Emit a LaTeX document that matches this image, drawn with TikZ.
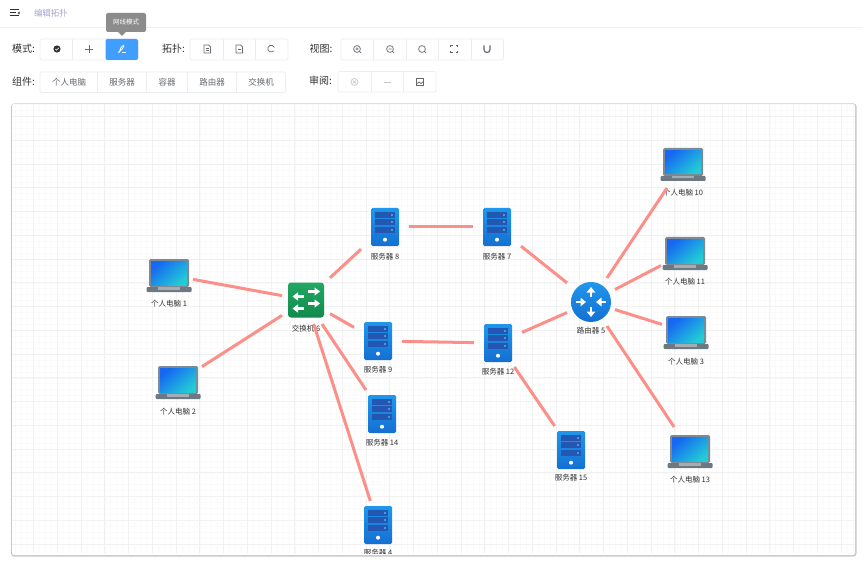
\documentclass[tikz,border=0pt]{standalone}
\usepackage{fontspec}
\setmainfont{Noto Sans CJK SC}
\usepackage{xcolor}
\usetikzlibrary{arrows.meta, positioning}

\definecolor{linkred}{HTML}{FC8F87}
\definecolor{gridminor}{HTML}{FAFAFA}
\definecolor{gridmajor}{HTML}{F1F1F1}
\definecolor{btnline}{HTML}{EBEDF2}
\definecolor{btntext}{HTML}{666A70}
\definecolor{labeltext}{HTML}{303133}
\definecolor{stripeblue}{HTML}{2457B2}
\definecolor{laptopgray}{HTML}{7E8993}
\definecolor{laptopbase}{HTML}{6C7882}
\definecolor{screenblue}{HTML}{1668F2}
\definecolor{screencyan}{HTML}{22CBD6}
\definecolor{deviceblue}{HTML}{1F97EC}
\definecolor{devicedeep}{HTML}{1470D2}
\definecolor{switchgreen}{HTML}{22A862}
\definecolor{switchdeep}{HTML}{118A4C}
\definecolor{activeblue}{HTML}{409EFF}

\tikzset{
    device/.style={minimum size=48, inner sep=0, outer sep=0},
    devlabel/.style={font=\fontsize{7.5}{9}\selectfont, text=labeltext, inner sep=0},
    barlabel/.style={font=\fontsize{10}{12}\selectfont, text=labeltext, inner sep=0},
    bartext/.style={font=\fontsize{8.5}{10}\selectfont, text=btntext, inner sep=0},
    btngroup/.style={draw=btnline, fill=white, rounded corners=2, line width=0.7},
    divider/.style={draw=btnline, line width=0.7},
    link/.style={draw=linkred, line width=3},
    icon/.style={draw=btntext, line width=0.7},
    faint/.style={draw=black!22, line width=0.7},
    laptopicon/.pic={
        \fill[laptopgray, rounded corners=1.5] (-20,-16) rectangle (20,12);
        \shade[top color=screenblue, bottom color=screencyan, shading angle=40] (-18,-13.5) rectangle (18,10);
        \fill[laptopbase, rounded corners=1] (-22.5,12) rectangle (22.5,17);
        \fill[laptopgray!70!white] (-11,12) rectangle (11,14.5);
    },
    servericon/.pic={
        \shade[top color=deviceblue, bottom color=devicedeep, rounded corners=1.5] (-14,-19) rectangle (14,19);
        \foreach \sy in {-12,-5,3} {
            \fill[stripeblue] (-10,\sy-2.7) rectangle (10,\sy+2.7);
            \fill[cyan!50!white] (7,\sy) circle (0.8);
        }
        \fill[white] (0,12.7) circle (2);
    },
    switchicon/.pic={
        \shade[top color=switchgreen, bottom color=switchdeep, rounded corners=3] (-18,-17.5) rectangle (18,17.5);
        \begin{scope}[white, line width=2.4, -{Triangle[length=5.5, width=8]}]
            \draw (2,-8.5) -- (14,-8.5);
            \draw (-2,-3.5) -- (-13.5,-3.5);
            \draw (2,3.5) -- (14,3.5);
            \draw (-2,8.5) -- (-13.5,8.5);
        \end{scope}
    },
    routericon/.pic={
        \shade[top color=deviceblue, bottom color=devicedeep] (0,0) circle (20);
        \begin{scope}[white, line width=2.4, -{Triangle[length=5.5, width=8.5]}]
            \draw (0,-5) -- (0,-15);
            \draw (0,5) -- (0,15);
            \draw (-15,0) -- (-5,0);
            \draw (15,0) -- (5,0);
        \end{scope}
    },
}

\begin{document}
\begin{tikzpicture}[x=1pt, y=-1pt]
    \useasboundingbox (0,0) rectangle (862,564);
    \fill[white] (0,0) rectangle (862,564);

    % Header
    \draw[black!6, line width=1] (0,28) -- (862,28);
    \draw[labeltext, line width=1] (10,10) -- (19,10) (10,13) -- (16,13) (10,16) -- (19,16);
    \fill[labeltext] (17.5,13) -- (19.5,11.7) -- (19.5,14.3) -- cycle;
    \node[font=\fontsize{8.5}{10}\selectfont, text=blue!30!gray!55!white, inner sep=0] (crumb) at (51,13) {编辑拓扑};

    % Tooltip
    \fill[black!45, rounded corners=2] (106,13) rectangle (146,32);
    \fill[black!45] (118,32) -- (126,32) -- (122,36) -- cycle;
    \node[font=\fontsize{6.5}{8}\selectfont, text=white, inner sep=0] (tip) at (126,22) {网线模式};

    % Mode group
    \node[barlabel] (modelabel) at (23.5,49) {模式:};
    \draw[btngroup] (40,39) rectangle (138,60);
    \fill[activeblue, rounded corners=2] (105.5,39) rectangle (138,60);
    \draw[divider] (72.5,39) -- (72.5,60);
    \fill[labeltext] (57,49) circle (3.6);
    \draw[white, line width=0.6] (55.3,49) -- (56.6,50.2) -- (58.7,47.9);
    \draw[icon] (85,49) -- (93,49) (89,45) -- (89,53);
    \draw[white, line width=0.8] (118,52.5) .. controls (121,51) and (125,46) .. (123.5,45.5) .. controls (122,45) and (119.5,50) .. (119.5,52.5);
    \draw[white, line width=0.8] (122,52.5) -- (126,52.5);

    % Topology group
    \node[barlabel] (topolabel) at (173.5,49) {拓扑:};
    \draw[btngroup] (190,39) rectangle (288,60);
    \draw[divider] (223,39) -- (223,60) (255,39) -- (255,60);
    \draw[icon] (204,45) -- (208.5,45) -- (210.5,47) -- (210.5,53) -- (204,53) -- cycle;
    \draw[icon] (205.5,48.5) -- (209,48.5) (205.5,50.5) -- (209,50.5);
    \draw[icon] (236,45) -- (240.5,45) -- (242.5,47) -- (242.5,53) -- (236,53) -- cycle;
    \draw[icon] (238,49) -- (240.5,49);
    \draw[icon] (274.3,47.5) arc[start angle=-20, end angle=-320, radius=3.4];

    % View group
    \node[barlabel] (viewlabel) at (321,49) {视图:};
    \draw[btngroup] (341,39) rectangle (503.5,60);
    \draw[divider] (373,39) -- (373,60) (406,39) -- (406,60) (438,39) -- (438,60) (471,39) -- (471,60);
    \draw[icon] (357,49) circle (3.4) (359.5,51.5) -- (361,53) (355.5,49) -- (358.5,49) (357,47.5) -- (357,50.5);
    \draw[icon] (390,49) circle (3.4) (392.5,51.5) -- (394,53) (388.5,49) -- (391.5,49);
    \draw[icon] (422,49) circle (3.4) (424.5,51.5) -- (426,53);
    \draw[icon] (450.5,47) -- (450.5,45.5) -- (452.5,45.5) (455.5,45.5) -- (457.5,45.5) -- (457.5,47);
    \draw[icon] (450.5,51) -- (450.5,52.5) -- (452.5,52.5) (455.5,52.5) -- (457.5,52.5) -- (457.5,51);
    \draw[icon, line width=1.2] (484,45.5) -- (484,49.5) .. controls (484,53.5) and (490,53.5) .. (490,49.5) -- (490,45.5);

    % Component group
    \node[barlabel] (complabel) at (23.5,82) {组件:};
    \draw[btngroup] (40,72) rectangle (285.5,92.5);
    \draw[divider] (97.5,72) -- (97.5,92.5) (146,72) -- (146,92.5) (187,72) -- (187,92.5) (236,72) -- (236,92.5);
    \node[bartext] (comppc) at (69,82.5) {个人电脑};
    \node[bartext] (compserver) at (122,82.5) {服务器};
    \node[bartext] (compbox) at (167,82.5) {容器};
    \node[bartext] (comprouter) at (212,82.5) {路由器};
    \node[bartext] (compswitch) at (261,82.5) {交换机};

    % Review group
    \node[barlabel] (reviewlabel) at (320.5,81) {审阅:};
    \draw[btngroup] (338,71.5) rectangle (436,92);
    \draw[divider] (371,71.5) -- (371,92) (403,71.5) -- (403,92);
    \draw[faint] (354.5,82) circle (3.5) (353,80.5) -- (356,83.5) (356,80.5) -- (353,83.5);
    \draw[faint] (384,82) -- (391,82);
    \draw[icon] (416.5,78.5) rectangle (423.5,85.5) (416.5,84) -- (419,82) -- (421,83.5) -- (423.5,81.5);

    % Canvas
    \fill[black!22, rounded corners=3] (11,103.5) rectangle (856.5,556.5);
    \fill[white, rounded corners=2] (12,104) rectangle (855,555);
    \begin{scope}
        \clip[rounded corners=2] (12,104) rectangle (855,553);

        % Grid
        \foreach \k in {-4,...,143} {
            \draw[gridminor, line width=0.5] (33.5+\k*5.9375,104) -- (33.5+\k*5.9375,555);
        }
        \foreach \k in {0,...,76} {
            \draw[gridminor, line width=0.5] (12,544-\k*5.9375) -- (855,544-\k*5.9375);
        }
        \foreach \k in {-1,...,35} {
            \draw[gridmajor, line width=0.7] (33.5+\k*23.75,104) -- (33.5+\k*23.75,555);
        }
        \foreach \k in {0,...,19} {
            \draw[gridmajor, line width=0.7] (12,544-\k*23.75) -- (855,544-\k*23.75);
        }

        % Laptops
        \node[device] (pc1) at (169,275) {};
        \pic at (pc1) {laptopicon};
        \node[devlabel] (pc1label) at (169,303.5) {个人电脑 1};
        \node[device] (pc2) at (178,382) {};
        \pic at (pc2) {laptopicon};
        \node[devlabel] (pc2label) at (178,411.5) {个人电脑 2};
        \node[device] (pc3) at (686,332) {};
        \pic at (pc3) {laptopicon};
        \node[devlabel] (pc3label) at (686,361.5) {个人电脑 3};
        \node[device] (pc10) at (683,164) {};
        \pic at (pc10) {laptopicon};
        \node[devlabel] (pc10label) at (683,192.5) {个人电脑 10};
        \node[device] (pc11) at (685,253) {};
        \pic at (pc11) {laptopicon};
        \node[devlabel] (pc11label) at (685,281.5) {个人电脑 11};
        \node[device] (pc13) at (690,451) {};
        \pic at (pc13) {laptopicon};
        \node[devlabel] (pc13label) at (690,479.5) {个人电脑 13};

        % Servers
        \node[device] (srv4) at (378,525) {};
        \pic at (srv4) {servericon};
        \node[devlabel] (srv4label) at (378,553) {服务器 4};
        \node[device] (srv7) at (497,227) {};
        \pic at (srv7) {servericon};
        \node[devlabel] (srv7label) at (497,256.5) {服务器 7};
        \node[device] (srv8) at (385,227) {};
        \pic at (srv8) {servericon};
        \node[devlabel] (srv8label) at (385,256.5) {服务器 8};
        \node[device] (srv9) at (378,341) {};
        \pic at (srv9) {servericon};
        \node[devlabel] (srv9label) at (378,369.5) {服务器 9};
        \node[device] (srv12) at (498,343) {};
        \pic at (srv12) {servericon};
        \node[devlabel] (srv12label) at (498,371.5) {服务器 12};
        \node[device] (srv14) at (382,414) {};
        \pic at (srv14) {servericon};
        \node[devlabel] (srv14label) at (382,442.5) {服务器 14};
        \node[device] (srv15) at (571,450) {};
        \pic at (srv15) {servericon};
        \node[devlabel] (srv15label) at (571,477.5) {服务器 15};

        % Switch and router
        \node[device] (sw6) at (306,300) {};
        \pic at (sw6) {switchicon};
        \node[devlabel] (sw6label) at (306,329) {交换机 6};
        \node[device] (rt5) at (591,302) {};
        \pic at (rt5) {routericon};
        \node[devlabel] (rt5label) at (591,330.5) {路由器 5};

        % Links
        \draw[link] (pc1) -- (sw6);
        \draw[link] (pc2) -- (sw6);
        \draw[link] (sw6) -- (srv8);
        \draw[link] (sw6) -- (srv9);
        \draw[link] (sw6) -- (srv14);
        \draw[link] (sw6) -- (srv4);
        \draw[link] (srv8) -- (srv7);
        \draw[link] (srv9) -- (srv12);
        \draw[link] (srv7) -- (rt5);
        \draw[link] (srv12) -- (rt5);
        \draw[link] (srv12) -- (srv15);
        \draw[link] (rt5) -- (pc10);
        \draw[link] (rt5) -- (pc11);
        \draw[link] (rt5) -- (pc3);
        \draw[link] (rt5) -- (pc13);
    \end{scope}
\end{tikzpicture}
\end{document}
